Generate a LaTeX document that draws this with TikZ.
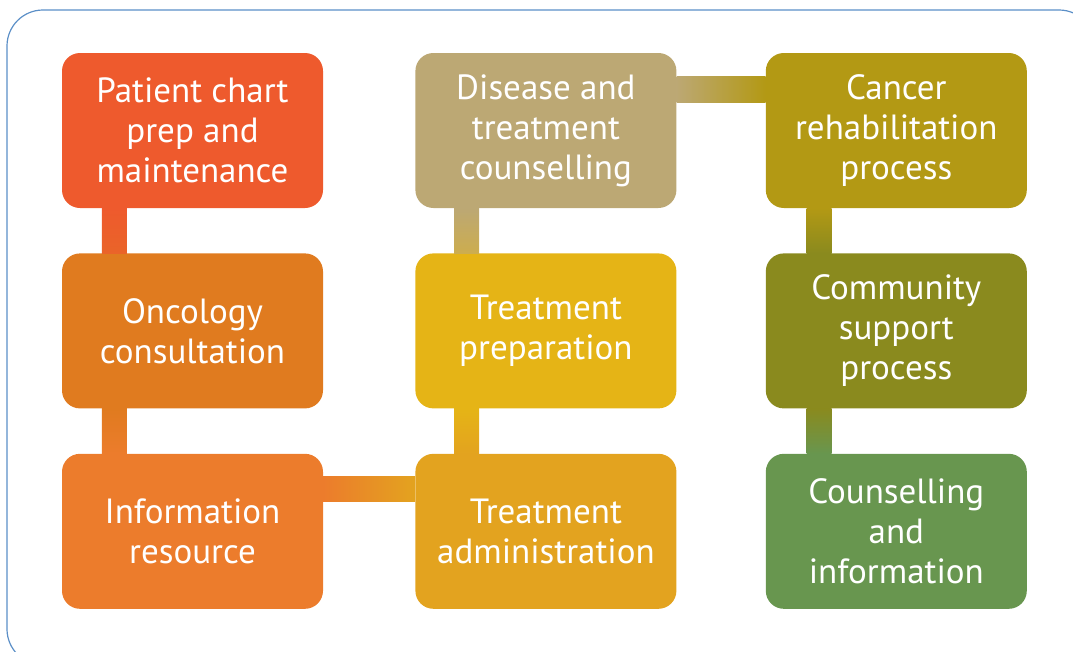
\documentclass[tikz,border=0pt]{standalone}
\usepackage{fontspec}
\setmainfont{PT Sans}
\usepackage{xcolor}
\usetikzlibrary{positioning}

\definecolor{cPatient}{HTML}{EE5A2D}
\definecolor{cOncology}{HTML}{E07B1F}
\definecolor{cInfo}{HTML}{EC7C2C}
\definecolor{cDisease}{HTML}{BCA874}
\definecolor{cPrep}{HTML}{E5B416}
\definecolor{cAdmin}{HTML}{E3A31F}
\definecolor{cRehab}{HTML}{B39914}
\definecolor{cCommunity}{HTML}{8A8A1E}
\definecolor{cCounsel}{HTML}{68964F}
\definecolor{cFrame}{HTML}{5B8FC7}

\tikzset{
  stage/.style={
    rectangle,
    rounded corners=18pt,
    minimum width=261pt,
    minimum height=155pt,
    inner sep=0pt,
    text=white,
    align=center,
    font=\fontsize{35}{40}\selectfont},
  frame/.style={draw=cFrame, line width=1.2pt, rounded corners=36pt},
}

\begin{document}
\begin{tikzpicture}[x=1pt, y=1pt, node distance=45pt]
  \clip (0,0) rectangle (1073,-651);
  \draw[frame] (7,-10) rectangle (1095,-665);

  % first column
  \node[stage, fill=cPatient] (pc) at (192.5,-130.5) {Patient chart\\prep and\\maintenance};
  \node[stage, fill=cOncology, below=of pc] (oc) {Oncology\\consultation};
  \node[stage, fill=cInfo, below=of oc] (ir) {Information\\resource};

  % second column
  \node[stage, fill=cDisease, right=92pt of pc] (dt) {Disease and\\treatment\\counselling};
  \node[stage, fill=cPrep, below=of dt] (tp) {Treatment\\preparation};
  \node[stage, fill=cAdmin, below=of tp] (ta) {Treatment\\administration};

  % third column
  \node[stage, fill=cRehab, right=89pt of dt] (cr) {Cancer\\rehabilitation\\process};
  \node[stage, fill=cCommunity, below=of cr] (cs) {Community\\support\\process};
  \node[stage, fill=cCounsel, below=of cs] (ci) {Counselling\\and\\information};

  \shade[top color=cPatient, bottom color=cPatient!70!cOncology] ([xshift=40pt]pc.south west) rectangle ([xshift=65pt]oc.north west);
  \shade[top color=cOncology, bottom color=cInfo] ([xshift=40pt]oc.south west) rectangle ([xshift=65pt]ir.north west);
  \shade[left color=cInfo, right color=cAdmin] ([yshift=-23pt]ir.north east) rectangle ([yshift=-48pt]ta.north west);
  \shade[top color=cPrep, bottom color=cAdmin] ([xshift=39pt]tp.south west) rectangle ([xshift=64pt]ta.north west);
  \shade[top color=cDisease, bottom color=cDisease!60!cPrep] ([xshift=39pt]dt.south west) rectangle ([xshift=64pt]tp.north west);
  \shade[left color=cDisease, right color=cRehab] ([yshift=-24pt]dt.north east) rectangle ([yshift=-50pt]cr.north west);
  \shade[top color=cRehab, bottom color=cCommunity] ([xshift=41pt]cr.south west) rectangle ([xshift=66pt]cs.north west);
  \shade[top color=cCommunity, bottom color=cCounsel] ([xshift=41pt]cs.south west) rectangle ([xshift=66pt]ci.north west);
\end{tikzpicture}
\end{document}
